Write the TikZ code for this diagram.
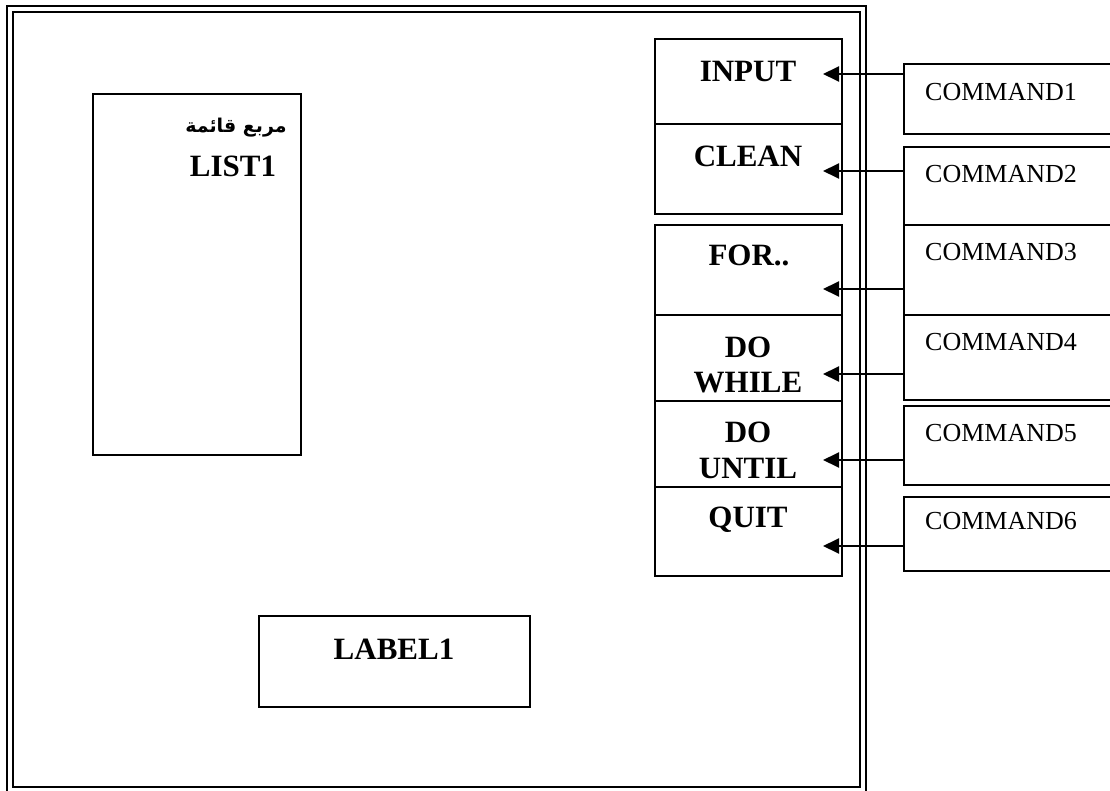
\documentclass[tikz,border=0pt]{standalone}
\usepackage{fontspec}
\setmainfont{Liberation Serif}
\newfontfamily\arabicfont[Script=Arabic]{DejaVu Sans}
\TeXXeTstate=1
\usetikzlibrary{arrows.meta,fit}
\begin{document}
\begin{tikzpicture}[x=1pt,y=-1pt,
  box/.style={draw,line width=2pt,rectangle,inner sep=0pt},
  frameline/.style={line width=2pt},
  bt/.style={font=\fontsize{31}{31}\selectfont\bfseries,anchor=base,inner sep=0pt},
  ct/.style={font=\fontsize{26}{26}\selectfont,anchor=base west,inner sep=0pt},
  arr/.style={line width=2pt,-{Triangle[length=16pt,width=15pt]}}]
\useasboundingbox (0,0) rectangle (1110,791);
% outer double frame
\draw[frameline] (7,6) rectangle (866,795);
\draw[frameline] (13,12) rectangle (860,787);
% list box and label box
\node[box,fit={(93,94) (301,455)}] (listbox) {};
\node[bt,font=\fontsize{19}{19}\selectfont\bfseries\arabicfont] (listar) at (236,133) {\beginR مربع قائمة\endR};
\node[bt] (listtxt) at (233,177) {LIST1};
\node[box,fit={(259,616) (530,707)}] (labelbox) {};
\node[bt] (labeltxt) at (394,659) {LABEL1};
% button cells
\node[box,fit={(655,39) (842,124)}] (cinput) {};
\node[box,fit={(655,124) (842,214)}] (cclean) {};
\node[box,fit={(655,225) (842,315)}] (cfor) {};
\node[box,fit={(655,315) (842,401)}] (cwhile) {};
\node[box,fit={(655,401) (842,487)}] (cuntil) {};
\node[box,fit={(655,487) (842,576)}] (cquit) {};
\node[bt] (tinput) at (748,82) {INPUT};
\node[bt] (tclean) at (748,167) {CLEAN};
\node[bt] (tfor) at (749,266) {FOR..};
\node[bt] (tdo1) at (748,357) {DO};
\node[bt] (twhile) at (748,392) {WHILE};
\node[bt] (tdo2) at (748,442) {DO};
\node[bt] (tuntil) at (748,478) {UNTIL};
\node[bt] (tquit) at (748,527) {QUIT};
% command boxes (open to the right edge)
\node[box,fit={(904,64) (1125,134)}] (cmd1) {};
\node[box,fit={(904,147) (1125,225)}] (cmd2) {};
\node[box,fit={(904,225) (1125,315)}] (cmd3) {};
\node[box,fit={(904,315) (1125,400)}] (cmd4) {};
\node[box,fit={(904,406) (1125,485)}] (cmd5) {};
\node[box,fit={(904,497) (1125,571)}] (cmd6) {};
\node[ct] (tc1) at (925,101) {COMMAND1};
\node[ct] (tc2) at (925,183) {COMMAND2};
\node[ct] (tc3) at (925,261) {COMMAND3};
\node[ct] (tc4) at (925,350) {COMMAND4};
\node[ct] (tc5) at (925,441) {COMMAND5};
\node[ct] (tc6) at (925,529) {COMMAND6};
% arrow tips
\coordinate (a1) at (823,74);
\coordinate (a2) at (823,171);
\coordinate (a3) at (823,289);
\coordinate (a4) at (823,374);
\coordinate (a5) at (823,460);
\coordinate (a6) at (823,546);
\draw[arr] (cmd1.west |- a1) -- (a1);
\draw[arr] (cmd2.west |- a2) -- (a2);
\draw[arr] (cmd3.west |- a3) -- (a3);
\draw[arr] (cmd4.west |- a4) -- (a4);
\draw[arr] (cmd5.west |- a5) -- (a5);
\draw[arr] (cmd6.west |- a6) -- (a6);
\end{tikzpicture}
\end{document}
